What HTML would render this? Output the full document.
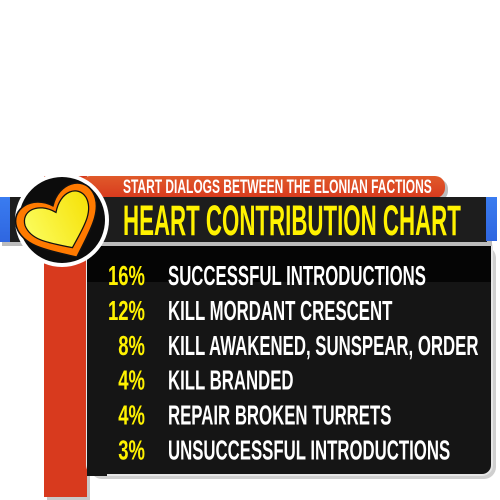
<!DOCTYPE html>
<html><head><meta charset="utf-8"><style>
html,body{margin:0;padding:0;background:#fff;width:500px;height:500px;overflow:hidden}
svg{display:block}
text{font-family:"Liberation Sans Narrow","Liberation Sans",sans-serif;font-weight:bold}
</style></head><body>
<svg id="chart" width="500" height="500" viewBox="0 0 500 500">
  <defs>
    <linearGradient id="red" x1="0" y1="0" x2="0" y2="1"><stop offset="0" stop-color="#e05a2a"/><stop offset="1" stop-color="#d83a1e"/></linearGradient>
    <linearGradient id="blue" x1="0" y1="0" x2="0" y2="1"><stop offset="0" stop-color="#3a7cf0"/><stop offset="1" stop-color="#2f66e0"/></linearGradient>
    <linearGradient id="yel" x1="0" y1="0" x2="1" y2="0"><stop offset="0" stop-color="#fbfb5a"/><stop offset="1" stop-color="#f6e20a"/></linearGradient>
  </defs>
  <rect x="47" y="180" width="43" height="320" fill="#c8c8c8"/>
  <rect x="90" y="246" width="406" height="233" rx="12" fill="#cfcfcf"/>
  <rect x="44" y="176" width="43" height="321" fill="#d83a1e"/>
  <rect x="87" y="238" width="405" height="237" rx="10" fill="#151515" stroke="#e6e6e6" stroke-width="2"/>
  <rect x="87" y="238" width="20" height="238" fill="#151515"/>
  <rect x="87" y="242" width="404" height="40" fill="#050505"/>
  <rect x="83" y="179" width="365" height="22" rx="10" fill="#bdbdbd"/>
  <rect x="80" y="176" width="365" height="22" rx="10" fill="url(#red)"/>
  <rect x="2" y="201" width="490" height="45" fill="#bcbcbc"/>
  <rect x="0" y="197" width="12" height="45" fill="url(#blue)"/>
  <rect x="10" y="197" width="477" height="45" fill="#1d1d1d"/>
  <rect x="486" y="197" width="11" height="44" fill="url(#blue)"/>
  <g>
    <circle cx="62" cy="220" r="47" fill="#fff"/>
    <circle cx="62" cy="220" r="43" fill="#0c0c0c"/>
    <g transform="translate(60,221) rotate(-25) scale(1.05)">
      <path d="M0,38 C-20,22 -42,8 -40,-12 C-38,-30 -14,-34 0,-16 C14,-34 38,-30 40,-12 C42,8 20,22 0,38 Z" fill="#ff7a00" stroke="#111" stroke-width="1.5"/>
      <path d="M0,28 C-16,16 -33,6 -32,-10 C-30,-24 -12,-26 0,-9 C12,-26 30,-24 32,-10 C33,6 16,16 0,28 Z" fill="url(#yel)" stroke="#111" stroke-width="1.2"/>
    </g>
  </g>
  <text id="subtitle" x="123" y="193" font-size="19" fill="#fff">START DIALOGS BETWEEN THE ELONIAN FACTIONS</text>
  <text id="title" x="123" y="235" font-size="43" fill="#fff200">HEART CONTRIBUTION CHART</text>
  <g id="rows"></g>
</svg>
<script>
const categories = ["SUCCESSFUL INTRODUCTIONS","KILL MORDANT CRESCENT","KILL AWAKENED, SUNSPEAR, ORDER","KILL BRANDED","REPAIR BROKEN TURRETS","UNSUCCESSFUL INTRODUCTIONS"];
const percentValues = [16,12,8,4,4,3];

const NS = "http://www.w3.org/2000/svg";
const rows = document.getElementById('rows');
const rowY = i => 285 + i * 34.9;
function fitWidth(el, x, w) {
  const nat = el.getComputedTextLength();
  if (nat > 0) el.setAttribute('transform', `translate(${x},0) scale(${w / nat},1) translate(${-x},0)`);
}
fitWidth(document.getElementById('subtitle'), 123, 309);
fitWidth(document.getElementById('title'), 123, 338);
let scale = null, pscale = null;
categories.forEach((c, i) => {
  const p = document.createElementNS(NS, 'text');
  
  
  p.setAttribute('x', 145); p.setAttribute('y', rowY(i));
  p.setAttribute('font-size', 28); p.setAttribute('fill', '#fff200');
  p.setAttribute('text-anchor', 'end');
  p.textContent = percentValues[i] + '%';
  rows.appendChild(p);
  const t = document.createElementNS(NS, 'text');
  
  
  t.setAttribute('x', 168); t.setAttribute('y', rowY(i));
  t.setAttribute('font-size', 28); t.setAttribute('fill', '#fff');
  t.textContent = c;
  rows.appendChild(t);
  if (scale === null) { const n = t.getComputedTextLength(); scale = n > 0 ? 258 / n : 1; }
  if (pscale === null) { const n = p.getComputedTextLength(); pscale = n > 0 ? 37 / n : 1; }
  t.setAttribute('transform', `translate(168,0) scale(${scale},1) translate(-168,0)`);
  p.setAttribute('transform', `translate(145,0) scale(${pscale},1) translate(-145,0)`);
});
</script>
</body></html>
